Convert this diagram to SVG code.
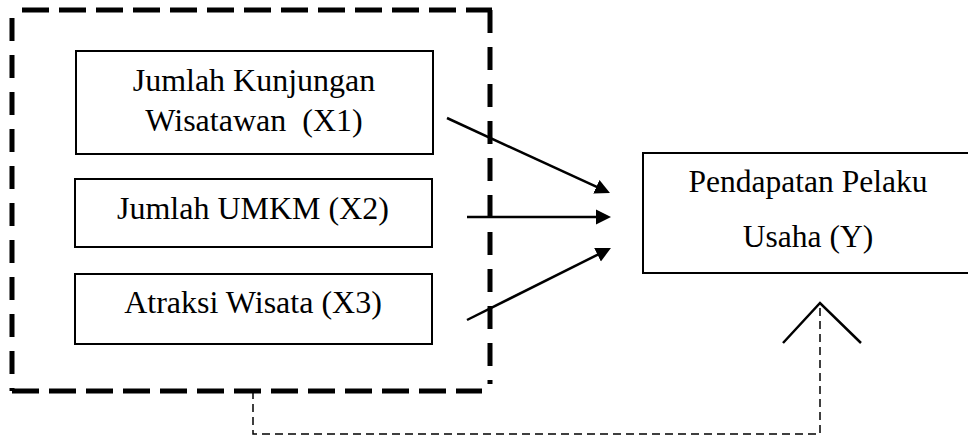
<svg xmlns="http://www.w3.org/2000/svg" width="968" height="436" viewBox="0 0 968 436">
<style>
.box{fill:#fff;stroke:#000;stroke-width:2}
.lbl{font-family:"Liberation Serif","Times New Roman",serif;font-size:32px;fill:#000;text-anchor:middle}
.lblr{font-family:"Liberation Serif","Times New Roman",serif;font-size:31.5px;fill:#000;text-anchor:middle}
.arrow{stroke:#000;stroke-width:2.5;fill:none;marker-end:url(#ah)}
.bigh{stroke:#000;stroke-width:5;fill:none;stroke-dasharray:27 10}
.bigv{stroke:#000;stroke-width:5;fill:none;stroke-dasharray:23 14}
.thin{stroke:#000;stroke-width:1.5;fill:none;stroke-dasharray:8 5}
</style>
<defs>
<marker id="ah" markerUnits="userSpaceOnUse" markerWidth="16" markerHeight="16" viewBox="0 0 16 16" refX="7" refY="8" orient="auto">
<path d="M0,0.5 L15,8 L0,15.5 Z" fill="#000"/>
</marker>
</defs>
<rect width="968" height="436" fill="#fff"/>
<g id="node-x1">
<rect class="box" x="76" y="51" width="357" height="103"/>
<text class="lbl" x="254" y="91">Jumlah Kunjungan</text>
<text class="lbl" x="254" y="131" xml:space="preserve">Wisatawan  (X1)</text>
</g>
<g id="node-x2">
<rect class="box" x="75" y="179" width="357" height="68"/>
<text class="lbl" x="253" y="219">Jumlah UMKM (X2)</text>
</g>
<g id="node-x3">
<rect class="box" x="75" y="274" width="357" height="70"/>
<text class="lbl" x="253" y="313">Atraksi Wisata (X3)</text>
</g>
<g id="node-y">
<rect class="box" x="643" y="153" width="340" height="120"/>
<text class="lblr" x="808" y="192">Pendapatan Pelaku</text>
<text class="lblr" x="808" y="247">Usaha (Y)</text>
</g>
<g id="connectors">
<line class="arrow" x1="447" y1="118" x2="602.7" y2="189.7"/>
<line class="arrow" x1="467" y1="217" x2="603" y2="217"/>
<line class="arrow" x1="467" y1="320" x2="603.8" y2="251.6"/>
<polyline class="thin" points="253,391 253,434 820,434 820,304"/>
<polyline points="783,343 820,303 861,343" fill="none" stroke="#000" stroke-width="2.5"/>
</g>
<g id="group-frame">
<line class="bigh" x1="22" y1="10" x2="492" y2="10"/>
<line class="bigv" x1="490" y1="10" x2="490" y2="384"/>
<line class="bigh" x1="12" y1="391" x2="482" y2="391"/>
<line class="bigv" x1="12" y1="18" x2="12" y2="391"/>
</g>
</svg>
